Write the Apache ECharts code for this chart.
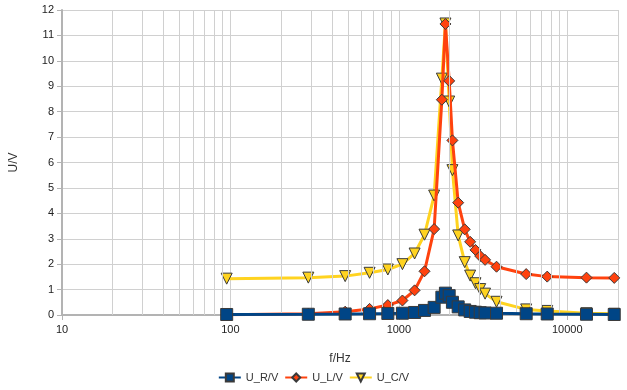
<!DOCTYPE html>
<html>
<head>
<meta charset="utf-8">
<script src="https://cdn.jsdelivr.net/npm/echarts@6/dist/echarts.min.js"></script>
<style>html,body{margin:0;padding:0;background:#fff;}#c{width:627px;height:390px;}</style>
</head>
<body>
<div id="c"></div>
<script>
const freq = [95, 290, 480, 670, 860, 1050, 1240, 1420, 1620, 1800, 1890, 1990, 2080, 2250, 2460, 2650, 2850, 3040, 3250, 3800, 5700, 7600, 13000, 19000];
const U_R = [0.02, 0.03, 0.04, 0.05, 0.06, 0.07, 0.10, 0.18, 0.30, 0.70, 0.86, 0.76, 0.50, 0.32, 0.20, 0.14, 0.11, 0.09, 0.08, 0.07, 0.05, 0.04, 0.03, 0.02];
const U_L = [0.01, 0.05, 0.13, 0.24, 0.39, 0.57, 0.97, 1.72, 3.38, 8.47, 11.45, 9.21, 6.87, 4.42, 3.37, 2.88, 2.56, 2.32, 2.17, 1.90, 1.61, 1.51, 1.47, 1.46];
const U_C = [1.43, 1.47, 1.53, 1.66, 1.79, 2.00, 2.42, 3.16, 4.70, 9.30, 11.47, 8.40, 5.70, 3.13, 2.08, 1.55, 1.25, 1.02, 0.84, 0.52, 0.22, 0.16, 0.07, 0.05];
const minorGrid = [20,30,40,50,60,70,80,90,200,300,400,500,600,700,800,900,2000,3000,4000,5000,6000,7000,8000,9000];
const xTickLabels = ['10', '100', '1000', '10000'];

const pairs = ys => freq.map((f, i) => [f, ys[i]]);
const font = 'Liberation Sans, Arial, sans-serif';
const gridColor = '#d0d0d0';

const chart = echarts.init(document.getElementById('c'), null, {renderer: 'canvas'});
chart.setOption({
  animation: false,
  backgroundColor: '#fff',
  grid: {left: 59, right: 9, top: 10, bottom: 75, containLabel: false},
  legend: {
    bottom: 2, left: 'center', itemWidth: 22, itemHeight: 10, itemGap: 6,
    textStyle: {fontFamily: font, fontSize: 11, color: '#333'},
    data: ['U_R/V', 'U_L/V', 'U_C/V']
  },
  xAxis: {
    type: 'log', logBase: 10, min: 10, max: 20000,
    name: 'f/Hz', nameLocation: 'middle', nameGap: 38,
    nameTextStyle: {fontFamily: font, fontSize: 12, color: '#333'},
    axisLine: {show: true, onZero: false, lineStyle: {color: '#b3b3b3', width: 2}},
    axisTick: {show: true, length: 5, lineStyle: {color: '#b3b3b3'}},
    axisLabel: {
      fontFamily: font, fontSize: 11, color: '#222', margin: 9,
      showMaxLabel: false,
      formatter: v => { const s = String(Math.round(v)); return xTickLabels.indexOf(s) >= 0 ? s : ''; }
    },
    splitLine: {show: true, lineStyle: {color: gridColor, width: 1}}
  },
  yAxis: {
    type: 'value', min: 0, max: 12, interval: 1,
    name: 'U/V', nameLocation: 'middle', nameGap: 42, nameRotate: 90,
    nameTextStyle: {fontFamily: font, fontSize: 12, color: '#333'},
    axisLine: {show: true, lineStyle: {color: '#b3b3b3', width: 2}},
    axisTick: {show: true, length: 5, lineStyle: {color: '#b3b3b3'}},
    axisLabel: {fontFamily: font, fontSize: 11, color: '#222', margin: 8},
    splitLine: {show: true, lineStyle: {color: gridColor, width: 1}}
  },
  series: [
    {
      name: 'minor', type: 'line', data: [], z: 1, silent: true,
      markLine: {
        silent: true, symbol: 'none', label: {show: false}, animation: false,
        lineStyle: {color: gridColor, width: 1, type: 'solid'},
        data: minorGrid.map(v => ({xAxis: v}))
      }
    },
    {
      name: 'U_R/V', type: 'line', data: pairs(U_R), z: 5,
      symbol: 'rect', symbolSize: 12,
      lineStyle: {color: '#004586', width: 3},
      itemStyle: {color: '#004586', borderColor: '#3a3a3a', borderWidth: 1}
    },
    {
      name: 'U_L/V', type: 'line', data: pairs(U_L), z: 4,
      symbol: 'diamond', symbolSize: 11,
      lineStyle: {color: '#ff420e', width: 3},
      itemStyle: {color: '#ff420e', borderColor: '#3a3a3a', borderWidth: 1}
    },
    {
      name: 'U_C/V', type: 'line', data: pairs(U_C), z: 3,
      symbol: 'triangle', symbolRotate: 180, symbolSize: 11,
      lineStyle: {color: '#ffd320', width: 3},
      itemStyle: {color: '#ffd320', borderColor: '#3a3a3a', borderWidth: 1}
    }
  ]
});
</script>
</body>
</html>
